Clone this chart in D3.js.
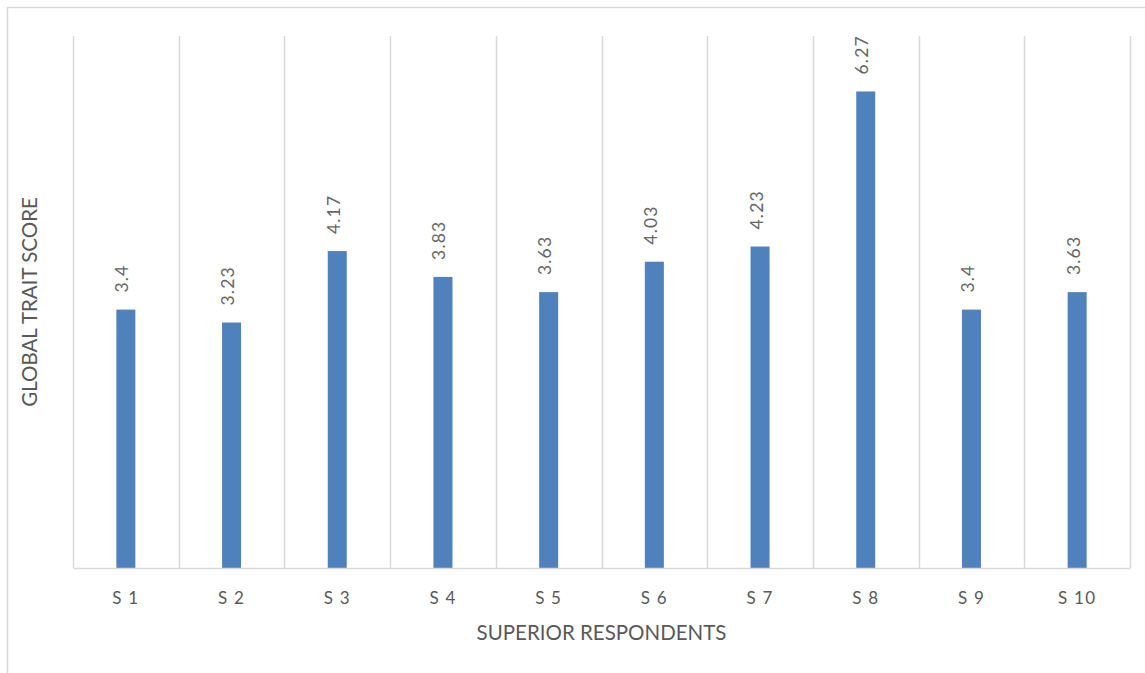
<!DOCTYPE html>
<html>
<head>
<meta charset="utf-8">
<script src="https://cdn.jsdelivr.net/npm/d3@7/dist/d3.min.js"></script>
<style>
  html, body { margin: 0; padding: 0; background: #ffffff; }
  svg { display: block; }
  text { font-family: Lato, "Open Sans", sans-serif; }
</style>
</head>
<body>
<script>
// Global trait score per superior respondent
const categories = ["S1", "S2", "S3", "S4", "S5", "S6", "S7", "S8", "S9", "S10"];
const scores = [3.4, 3.23, 4.17, 3.83, 3.63, 4.03, 4.23, 6.27, 3.4, 3.63];
const tickLabels = ["S 1", "S 2", "S 3", "S 4", "S 5", "S 6", "S 7", "S 8", "S 9", "S 10"];
const yDomain = [0, 7];

const W = 1145, H = 673;
const plot = { left: 73, right: 1130, top: 36, bottom: 568 };

const svg = d3.select("body").append("svg")
  .attr("width", W).attr("height", H);

// chart area frame
svg.append("path")
  .attr("d", `M7.5,${H} V7.5 H${W}`)
  .attr("fill", "none")
  .attr("stroke", "#d9d9d9")
  .attr("stroke-width", 1.5);

const x = d3.scaleBand()
  .domain(categories)
  .range([plot.left, plot.right])
  .paddingInner(0).paddingOuter(0);

const y = d3.scaleLinear()
  .domain(yDomain)
  .range([plot.bottom, plot.top]);

// category separators
const seps = categories.map(c => x(c)).concat([x.range()[1]]);
svg.append("g").selectAll("line")
  .data(seps)
  .join("line")
  .attr("x1", d => Math.round(d) + 0.5)
  .attr("x2", d => Math.round(d) + 0.5)
  .attr("y1", y(yDomain[1]))
  .attr("y2", y(0))
  .attr("stroke", "#d9d9d9")
  .attr("stroke-width", 1.5);

// bars
const barW = 19;
svg.append("g").selectAll("rect")
  .data(categories)
  .join("rect")
  .attr("x", (c) => x(c) + x.bandwidth() / 2 - barW / 2)
  .attr("y", (c, i) => y(scores[i]))
  .attr("width", barW)
  .attr("height", (c, i) => y(0) - y(scores[i]))
  .attr("fill", "#4f81bd");

// x axis line and tick labels
const xAxis = d3.axisBottom(x).tickSize(0).tickFormat((d, i) => tickLabels[i]);
const gx = svg.append("g")
  .attr("transform", `translate(0,${y(0)})`)
  .call(xAxis);
gx.select(".domain").attr("stroke", "#d9d9d9").attr("stroke-width", 1.5);
gx.selectAll(".tick text")
  .attr("dy", null)
  .attr("y", 36)
  .attr("fill", "#595959")
  .style("font-family", "Lato, 'Open Sans', sans-serif")
  .style("font-size", "17px")
  .style("letter-spacing", "1.2px");

// value labels, rotated
svg.append("g").selectAll("text")
  .data(categories)
  .join("text")
  .attr("transform", (c, i) =>
    `translate(${x(c) + x.bandwidth() / 2 + 2.5},${y(scores[i]) - 17}) rotate(-90)`)
  .attr("fill", "#666666")
  .style("font-size", "17.5px")
  .style("letter-spacing", "1.2px")
  .text((c, i) => scores[i]);

// axis titles
svg.append("text")
  .attr("x", (plot.left + plot.right) / 2 + 0)
  .attr("y", 640)
  .attr("text-anchor", "middle")
  .attr("fill", "#595959")
  .style("font-size", "20.5px")
  .text("SUPERIOR RESPONDENTS");

svg.append("text")
  .attr("transform", `translate(37,${(plot.top + plot.bottom) / 2}) rotate(-90)`)
  .attr("text-anchor", "middle")
  .attr("fill", "#595959")
  .style("font-size", "20.5px")
  .text("GLOBAL TRAIT SCORE");
</script>
</body>
</html>
